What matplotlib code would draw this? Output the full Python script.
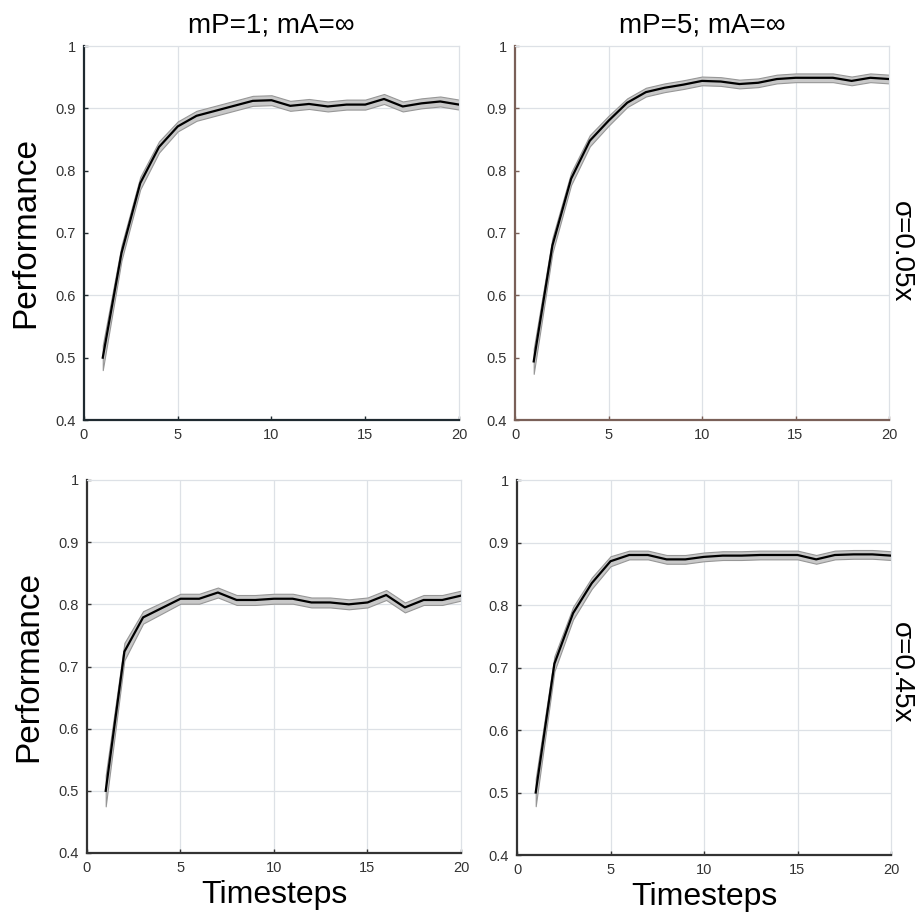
import matplotlib
matplotlib.use("Agg")
import matplotlib.pyplot as plt
import numpy as np

plt.rcParams['font.family'] = ['Liberation Sans', 'DejaVu Sans']

timesteps = list(range(1, 21))

perf_mp1_s005 = [0.50, 0.668, 0.78, 0.838, 0.871, 0.888, 0.896, 0.904, 0.912, 0.913,
                 0.904, 0.907, 0.903, 0.906, 0.906, 0.915, 0.903, 0.908, 0.911, 0.906]
err_mp1_s005 = [0.02, 0.012, 0.01, 0.009, 0.008, 0.008, 0.008, 0.008, 0.008, 0.008,
                0.008, 0.008, 0.008, 0.008, 0.008, 0.008, 0.008, 0.008, 0.008, 0.008]

perf_mp5_s005 = [0.494, 0.68, 0.787, 0.848, 0.88, 0.909, 0.926, 0.933, 0.938, 0.944,
                 0.943, 0.939, 0.941, 0.947, 0.949, 0.949, 0.949, 0.944, 0.949, 0.947]
err_mp5_s005 = [0.02, 0.012, 0.01, 0.009, 0.008, 0.007, 0.007, 0.007, 0.007, 0.007,
                0.007, 0.007, 0.007, 0.007, 0.007, 0.007, 0.007, 0.007, 0.007, 0.007]

perf_mp1_s045 = [0.50, 0.724, 0.779, 0.794, 0.809, 0.809, 0.819, 0.807, 0.807, 0.809,
                 0.809, 0.803, 0.803, 0.80, 0.803, 0.815, 0.795, 0.807, 0.807, 0.814]
err_mp1_s045 = [0.025, 0.014, 0.01, 0.009, 0.008, 0.008, 0.008, 0.008, 0.008, 0.008,
                0.008, 0.008, 0.008, 0.008, 0.008, 0.008, 0.008, 0.008, 0.008, 0.008]

perf_mp5_s045 = [0.50, 0.706, 0.787, 0.835, 0.87, 0.88, 0.88, 0.873, 0.873, 0.877,
                 0.879, 0.879, 0.88, 0.88, 0.88, 0.873, 0.88, 0.881, 0.881, 0.879]
err_mp5_s045 = [0.022, 0.012, 0.01, 0.009, 0.008, 0.007, 0.007, 0.007, 0.007, 0.007,
                0.007, 0.007, 0.007, 0.007, 0.007, 0.007, 0.007, 0.007, 0.007, 0.007]

col_titles = ["mP=1; mA=\u221e", "mP=5; mA=\u221e"]
row_labels = ["\u03c3=0.05x", "\u03c3=0.45x"]
x_ticks = [0, 5, 10, 15, 20]
y_ticks = [0.4, 0.5, 0.6, 0.7, 0.8, 0.9, 1.0]
y_tick_labels = ["0.4", "0.5", "0.6", "0.7", "0.8", "0.9", "1"]

fig = plt.figure(figsize=(9.2, 9.19), dpi=100)
W, H = 920, 919

def ax_at(l, t, r, b):
    return fig.add_axes([l / W, 1 - b / H, (r - l) / W, (b - t) / H])

axes = [
    ax_at(84, 46, 459, 420),
    ax_at(515, 46, 889, 420),
    ax_at(87, 480, 461, 853),
    ax_at(517, 480, 891, 855),
]
data = [
    (perf_mp1_s005, err_mp1_s005),
    (perf_mp5_s005, err_mp5_s005),
    (perf_mp1_s045, err_mp1_s045),
    (perf_mp5_s045, err_mp5_s045),
]
grid_x = [[5], [5, 10, 15], [5, 10, 15], [5, 10, 15]]
grid_y = [[0.6, 0.9], [0.6, 0.9], [0.5, 0.6, 0.7, 0.8, 0.9], [0.5, 0.6, 0.7, 0.8, 0.9]]
spine_cols = ['#1f2a30', '#7a6058', '#333333', '#333333']
grid_col = '#dde1e6'

for i, ax in enumerate(axes):
    y, e = data[i]
    y = np.array(y); e = np.array(e)
    ax.set_xlim(0, 20)
    ax.set_ylim(0.4, 1.0)
    for gx in grid_x[i]:
        ax.axvline(gx, color=grid_col, lw=0.9, zorder=0)
    for gy in grid_y[i]:
        ax.axhline(gy, color=grid_col, lw=0.9, zorder=0)
    ax.fill_between(timesteps, y - e, y + e, facecolor='#c8c8c8', edgecolor='#979797',
                    lw=0.8, zorder=2)
    ax.plot(timesteps, y, color='black', lw=1.6, zorder=3)
    ax.set_xticks(x_ticks)
    ax.set_xticklabels([str(v) for v in x_ticks])
    ax.set_yticks(y_ticks)
    ax.set_yticklabels(y_tick_labels)
    ax.tick_params(direction='in', length=3, width=1, labelsize=10.5,
                   labelcolor='#333333', color=spine_cols[i], pad=6)
    for s in ['left', 'bottom']:
        ax.spines[s].set_color(spine_cols[i])
        ax.spines[s].set_linewidth(1.6)
    for s in ['top', 'right']:
        ax.spines[s].set_color(grid_col)
        ax.spines[s].set_linewidth(0.9)

for j in range(2):
    axes[j].set_title(col_titles[j], fontsize=20, pad=10)
for r in range(2):
    axes[2 * r].set_ylabel("Performance", fontsize=24, labelpad=10)
fig.text(901 / W, 1 - 252 / H, row_labels[0], fontsize=20, rotation=270,
         ha='center', va='center')
fig.text(901 / W, 1 - 673 / H, row_labels[1], fontsize=20, rotation=270,
         ha='center', va='center')
for k in [2, 3]:
    axes[k].set_xlabel("Timesteps", fontsize=23, labelpad=3)

fig.savefig("out.png", dpi=100, facecolor='white')
